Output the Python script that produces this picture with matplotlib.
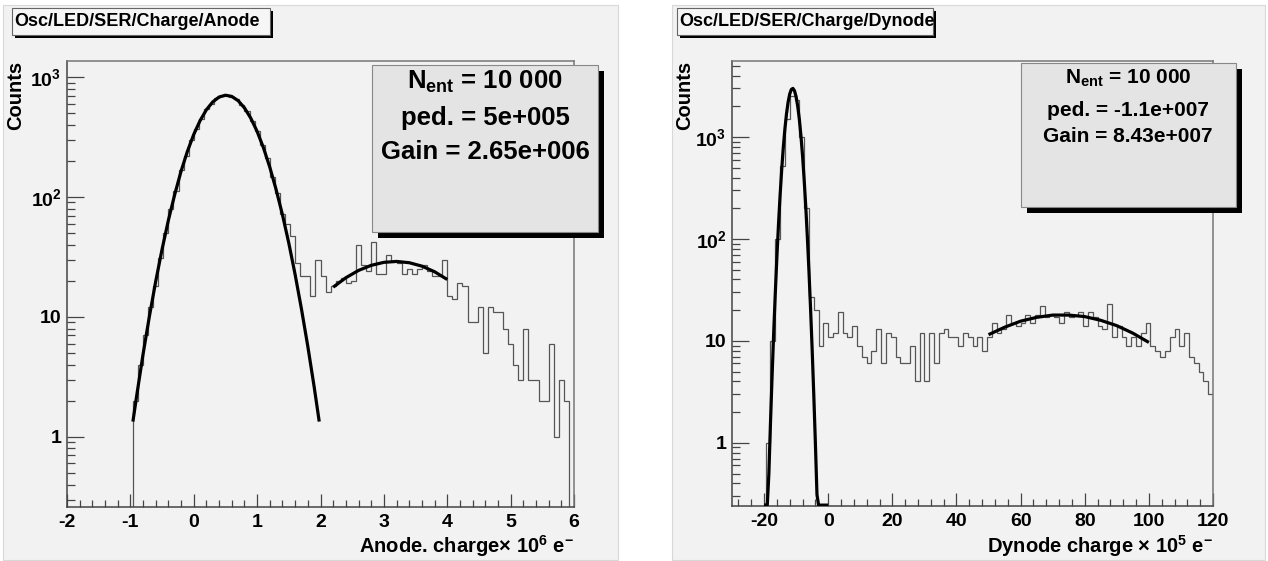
import numpy as np
import matplotlib
matplotlib.use("Agg")
import matplotlib.pyplot as plt
from matplotlib.patches import Rectangle
from matplotlib.ticker import MultipleLocator, LogLocator, FuncFormatter, NullFormatter

# ── Data ──────────────────────────────────────────────────────
# Anode: 100 bins on [-2, 6]
anode_range = (-2.0, 6.0)
anode_counts = [
    0, 0, 0, 0, 0, 0, 0, 0, 0, 0, 0, 0, 0,                 # -2.00 .. -1.04
    2, 4, 7, 12, 18, 31, 50, 80, 112, 168,                   # -0.96 .. -0.24
    220, 298, 368, 450, 540, 598, 668, 690, 712, 684,        # -0.16 ..  0.56
    652, 580, 520, 428, 355, 270, 212, 146, 108, 72,         #  0.64 ..  1.36
    60, 47, 28, 22, 22, 15, 30, 22, 16, 18,                  #  1.44 ..  2.16
    20, 21, 19, 20, 40, 27, 24, 42, 23, 23,                  #  2.24 ..  2.96
    33, 29, 28, 23, 25, 23, 25, 27, 24, 22,                  #  3.04 ..  3.76
    22, 30, 15, 14, 19, 18, 9, 9, 12, 5,                     #  3.84 ..  4.56
    12, 11, 11, 8, 6, 4, 3, 8, 3, 3,                         #  4.64 ..  5.36
    2, 2, 6, 1, 3, 2, 0,                                     #  5.44 ..  5.92
]
anode_ped_x = [-0.96, -0.9, -0.8, -0.7, -0.6, -0.5, -0.4, -0.3, -0.2, -0.1,
               0.0, 0.1, 0.2, 0.3, 0.4, 0.5, 0.6, 0.7, 0.8, 0.9,
               1.0, 1.1, 1.2, 1.3, 1.4, 1.5, 1.6, 1.7, 1.8, 1.9, 1.98]
anode_ped_y = [1.34, 2.21, 4.88, 10.1, 19.8, 36.6, 64.0, 105, 164, 240,
               332, 433, 534, 620, 681, 705, 689, 635, 553, 454,
               352, 257, 177, 115, 71.0, 41.2, 22.5, 11.6, 5.67, 2.61, 1.34]
anode_ser_x = [2.2, 2.4, 2.6, 2.8, 3.0, 3.2, 3.4, 3.6, 3.8, 4.0]
anode_ser_y = [17.7, 21.2, 24.4, 26.9, 28.5, 29.0, 28.3, 26.5, 23.8, 20.5]

# Dynode: 100 bins on [-30, 120]
dynode_range = (-30.0, 120.0)
dynode_counts = [
    0, 0, 0, 0, 0, 0, 0,                                     # -30 .. -21
    1, 10, 100, 520, 1500, 2500, 2300, 1000, 200, 27,        # -19.5 .. -6
    20, 9, 15, 11, 12, 19, 12, 11, 14, 9,                    # -4.5 .. 9
    7, 6, 8, 13, 6, 12, 11, 7, 6, 6,                         # 10.5 .. 24
    9, 4, 12, 4, 12, 6, 12, 13, 11, 11,                      # 25.5 .. 39
    9, 12, 11, 9, 11, 8, 11, 15, 12, 13,                     # 40.5 .. 54
    18, 15, 14, 15, 18, 15, 18, 22, 17, 18,                  # 55.5 .. 69
    17, 15, 19, 17, 18, 19, 14, 19, 17, 14,                  # 70.5 .. 84
    13, 23, 11, 14, 11, 9, 11, 9, 12, 15,                    # 85.5 .. 99
    9, 8, 7, 8, 11, 13, 9, 12, 7, 6,                         # 100.5 .. 114
    5, 4, 3,                                                 # 115.5 .. 118.5
]
dynode_ped_x = [-20.0, -19.5, -19.0, -18.5, -18.0, -17.5, -17.0, -16.5, -16.0,
                -15.5, -15.0, -14.5, -14.0, -13.5, -13.0, -12.5, -12.0, -11.5,
                -11.0, -10.5, -10.0, -9.5, -9.0, -8.5, -8.0, -7.5, -7.0, -6.5,
                -6.0, -5.5, -5.0, -4.5, -4.0, -3.5, -3.0, -2.0, -1.0, 0.0]
dynode_ped_y = [0.01, 0.041, 0.149, 0.50, 1.57, 4.5, 12.0, 29.3, 66.4,
                139, 268, 479, 790, 1203, 1691, 2198, 2638, 2925,
                2995, 2833, 2476, 1998, 1490, 1026, 653, 383, 208, 104,
                48.3, 20.7, 8.2, 2.98, 1.0, 0.31, 0.09, 0.01, 0.01, 0.01]
dynode_ser_x = [50, 55, 60, 65, 70, 75, 80, 85, 90, 95, 100]
dynode_ser_y = [11.5, 13.6, 15.6, 17.0, 17.9, 17.9, 17.3, 15.9, 14.1, 11.9, 9.65]

anode_stats = [r"N$_{ent}$ = 10 000", "ped. = 5e+005", "Gain = 2.65e+006"]
dynode_stats = [r"N$_{ent}$ = 10 000", "ped. = -1.1e+007", "Gain = 8.43e+007"]

# ── Style ─────────────────────────────────────────────────────
plt.rcParams['font.family'] = ['Liberation Sans', 'DejaVu Sans']
plt.rcParams['font.weight'] = 'bold'
plt.rcParams['axes.labelweight'] = 'bold'
plt.rcParams['mathtext.fontset'] = 'custom'
plt.rcParams['mathtext.rm'] = 'Liberation Sans:bold'
plt.rcParams['mathtext.it'] = 'Liberation Sans:bold'
plt.rcParams['mathtext.bf'] = 'Liberation Sans:bold'
plt.rcParams['mathtext.sf'] = 'Liberation Sans:bold'
plt.rcParams['axes.unicode_minus'] = False

PAD_BG = "#f2f2f2"
HIST_C = "#555555"
W, H = 1268, 561


def fx(px):
    return px / W


def fy(py):
    return 1 - py / H


def shadow_box(fig, x0, y0, x1, y1, off, face, edge, z):
    fig.add_artist(Rectangle((fx(x0 + off), fy(y1 + off)), (x1 - x0) / W, (y1 - y0) / H,
                             transform=fig.transFigure, facecolor="black",
                             edgecolor="none", zorder=z))
    fig.add_artist(Rectangle((fx(x0), fy(y1)), (x1 - x0) / W, (y1 - y0) / H,
                             transform=fig.transFigure, facecolor=face,
                             edgecolor=edge, linewidth=0.8, zorder=z + 0.1))


def log_label(v, _pos):
    n = int(round(np.log10(v)))
    if n == 0:
        return "1"
    if n == 1:
        return "10"
    return r"$10^{%d}$" % n


def draw_panel(ax, rng, counts, fits, ylim, major, minor, xlabel):
    edges = np.linspace(rng[0], rng[1], len(counts) + 1)
    ax.set_facecolor(PAD_BG)
    ax.set_yscale("log")
    ax.stairs(counts, edges, color=HIST_C, linewidth=0.9, zorder=2)
    for fx_, fy_ in fits:
        ax.plot(fx_, np.clip(fy_, ylim[0] * 1.02, None), color="black",
                linewidth=2.3, zorder=3, solid_capstyle="butt")
    ax.set_xlim(*rng)
    ax.set_ylim(*ylim)

    ax.xaxis.set_major_locator(MultipleLocator(major))
    ax.xaxis.set_minor_locator(MultipleLocator(minor))
    ax.yaxis.set_major_locator(LogLocator(base=10))
    ax.yaxis.set_minor_locator(LogLocator(base=10, subs=np.arange(2, 10)))
    ax.yaxis.set_major_formatter(FuncFormatter(log_label))
    ax.yaxis.set_minor_formatter(NullFormatter())
    ax.xaxis.set_major_formatter(FuncFormatter(lambda v, p: "%g" % v))

    ax.tick_params(axis="x", which="major", direction="in", length=9.5, width=0.9,
                   color="#444444", labelsize=14, pad=5)
    ax.tick_params(axis="x", which="minor", direction="in", length=5, width=0.9,
                   color="#444444")
    ax.tick_params(axis="y", which="major", direction="in", length=12, width=0.9,
                   color="#444444", labelsize=14, pad=4)
    ax.tick_params(axis="y", which="minor", direction="in", length=6, width=0.9,
                   color="#444444")
    for name, sp in ax.spines.items():
        sp.set_color("#444444" if name in ("left", "bottom") else "#777777")
        sp.set_linewidth(1.1)

    ax.set_ylabel("Counts", fontsize=14.5, loc="top")
    ax.set_xlabel(xlabel, fontsize=14.5, loc="right")
    ax.xaxis.label.set_va("center")


fig = plt.figure(figsize=(W / 100, H / 100), dpi=100, facecolor="white")

# pads
for x0, x1 in [(3, 618), (672, 1265)]:
    fig.add_artist(Rectangle((fx(x0), fy(560)), (x1 - x0) / W, 555 / H,
                             transform=fig.transFigure, facecolor=PAD_BG,
                             edgecolor="#d8d8d8", linewidth=0.8, zorder=-5))

ax1 = fig.add_axes([fx(67), fy(507), (574 - 67) / W, (507 - 61) / H])
ax2 = fig.add_axes([fx(732), fy(506), (1213 - 732) / W, (506 - 61) / H])

draw_panel(ax1, anode_range, anode_counts,
           [(anode_ped_x, anode_ped_y), (anode_ser_x, anode_ser_y)],
           (0.26, 1360), 1, 0.2,
           r"Anode. charge$\times$ 10$^{6}$ e$^{-}$")
ax1.yaxis.set_label_coords(-0.083, 1.0)
ax1.xaxis.set_label_coords(1.0, -39 / 446)

draw_panel(ax2, dynode_range, dynode_counts,
           [(dynode_ped_x, dynode_ped_y), (dynode_ser_x, dynode_ser_y)],
           (0.24, 5560), 20, 4,
           r"Dynode charge $\times$ 10$^{5}$ e$^{-}$")
ax2.yaxis.set_label_coords(-0.079, 1.0)
ax2.xaxis.set_label_coords(1.0, -40 / 445)

# title boxes
for x0, x1, label in [(12, 270, "Osc/LED/SER/Charge/Anode"),
                      (677, 933, "Osc/LED/SER/Charge/Dynode")]:
    shadow_box(fig, x0, 8, x1, 35, 2.5, "#f6f6f6", "#666666", 5)
    fig.text(fx(x0 + 2), fy(21.5), label, fontsize=13, ha="left", va="center",
             zorder=6)

# stat boxes
shadow_box(fig, 372, 65, 598, 232, 6, "#e4e4e4", "#888888", 5)
for txt, yy in zip(anode_stats, [82, 118, 152]):
    fig.text(fx(485), fy(yy), txt, fontsize=18.5, ha="center", va="center", zorder=6)

shadow_box(fig, 1021, 63, 1236, 207, 6, "#e4e4e4", "#888888", 5)
for txt, yy in zip(dynode_stats, [78, 110, 137]):
    fig.text(fx(1128), fy(yy), txt, fontsize=15, ha="center", va="center", zorder=6)

fig.savefig("out.png", dpi=100, facecolor="white")
